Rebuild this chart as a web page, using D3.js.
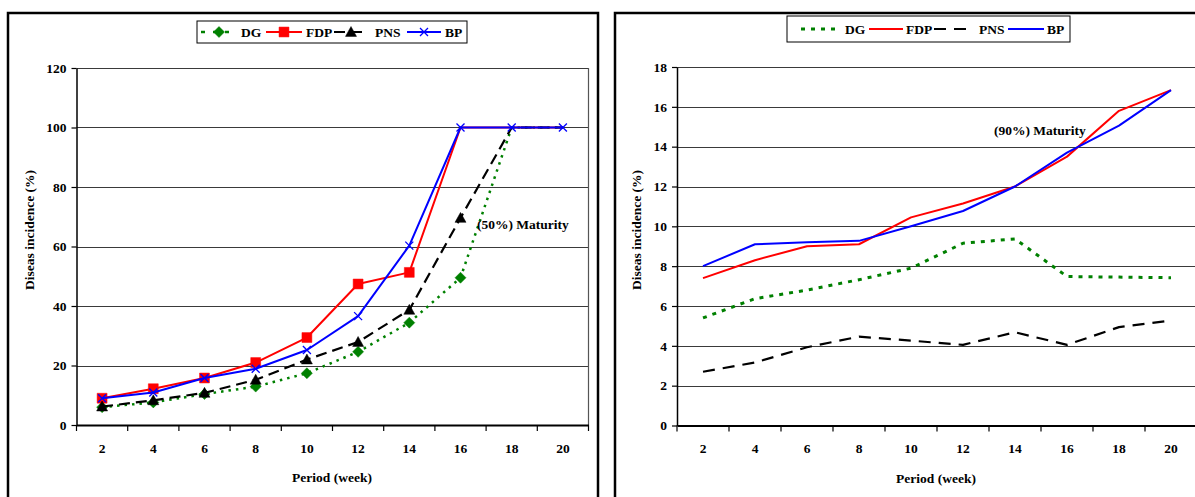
<!DOCTYPE html>
<html>
<head>
<meta charset="utf-8">
<script src="https://cdn.jsdelivr.net/npm/d3@7"></script>
<style>
  html, body { margin: 0; padding: 0; background: #fff; }
  svg { display: block; }
  text { font-family: "Liberation Serif", "Times New Roman", serif; font-weight: bold; fill: #000; }
</style>
</head>
<body>
<svg id="chart" width="1195" height="497"></svg>
<script>
// ---------- DATA ----------
const weeks = [2, 4, 6, 8, 10, 12, 14, 16, 18, 20];
const seriesNames = ["DG", "FDP", "PNS", "BP"];

// Left chart (50% maturity)
const leftDG  = [6.0, 7.6, 10.4, 12.9, 17.4, 24.6, 34.4, 49.5, 100, 100];
const leftFDP = [9.0, 12.2, 15.8, 21.0, 29.4, 47.4, 51.3, 100, 100, 100];
const leftPNS = [6.2, 8.3, 10.8, 15.2, 22.0, 27.9, 38.7, 69.6, 100, 100];
const leftBP  = [9.0, 10.9, 15.8, 18.9, 25.2, 36.6, 60.3, 100, 100, 100];
const leftYTicks = [0, 20, 40, 60, 80, 100, 120];

// Right chart (90% maturity)
const rightDG  = [5.4, 6.37, 6.8, 7.32, 7.9, 9.15, 9.37, 7.48, 7.45, 7.42];
const rightFDP = [7.4, 8.3, 9.0, 9.1, 10.45, 11.15, 12.0, 13.5, 15.8, 16.84];
const rightPNS = [2.7, 3.16, 3.93, 4.46, 4.26, 4.05, 4.68, 4.05, 4.94, 5.27];
const rightBP  = [8.0, 9.1, 9.2, 9.27, 10.0, 10.77, 12.0, 13.7, 15.06, 16.84];
const rightYTicks = [0, 2, 4, 6, 8, 10, 12, 14, 16, 18];

const xTitle = "Period (week)";
const yTitle = "Diseas incidence (%)";

// ---------- STYLES ----------
const colors = { DG: "#008000", FDP: "#ff0000", PNS: "#000000", BP: "#0000ff" };

const svg = d3.select("#chart");

function markerPath(type, size) {
  const s = size / 2;
  if (type === "DG") return `M0,${-s}L${s},0L0,${s}L${-s},0Z`;
  if (type === "FDP") return `M${-s*0.9},${-s*0.9}H${s*0.9}V${s*0.9}H${-s*0.9}Z`;
  if (type === "PNS") return `M0,${-s}L${s},${s*0.8}L${-s},${s*0.8}Z`;
  return `M${-s*0.8},${-s*0.8}L${s*0.8},${s*0.8}M${s*0.8},${-s*0.8}L${-s*0.8},${s*0.8}`;
}

function drawChart(cfg) {
  const g = svg.append("g");
  // frame
  g.append("rect").attr("x", cfg.frame[0]).attr("y", cfg.frame[1])
    .attr("width", cfg.frame[2]).attr("height", cfg.frame[3])
    .attr("fill", "none").attr("stroke", "#000").attr("stroke-width", 2.5);

  const x = d3.scaleBand().domain(weeks).range([cfg.x0, cfg.x1]);
  const y = d3.scaleLinear().domain(cfg.yDomain).range([cfg.y0, cfg.y1]);
  const cx = w => x(w) + x.bandwidth() / 2;

  // gridlines
  g.append("g").selectAll("line").data(cfg.yTicks.filter(t => t !== 0)).join("line")
    .attr("x1", cfg.x0).attr("x2", cfg.x1)
    .attr("y1", d => Math.round(y(d)) + 0.5).attr("y2", d => Math.round(y(d)) + 0.5)
    .attr("stroke", "#3a3a3a").attr("stroke-width", 1.2);

  // right border of plot
  if (cfg.rightBorder) {
    g.append("line").attr("x1", cfg.x1).attr("x2", cfg.x1).attr("y1", cfg.y1).attr("y2", cfg.y0)
      .attr("stroke", "#555").attr("stroke-width", 1.2);
  }

  // y axis
  const yAxis = g.append("g").attr("transform", `translate(${cfg.x0},0)`)
    .call(d3.axisLeft(y).tickValues(cfg.yTicks).tickSize(5).tickPadding(5).tickSizeOuter(0));
  yAxis.select(".domain").attr("stroke", "#000").attr("stroke-width", 1.5);
  yAxis.selectAll(".tick line").attr("stroke", "#000").attr("stroke-width", 1.2);
  yAxis.selectAll(".tick text").style("font-size", "13.5px")
    .style("font-family", "'Liberation Serif', serif").style("font-weight", "bold");

  // x axis
  const xAxis = g.append("g").attr("transform", `translate(0,${cfg.y0})`)
    .call(d3.axisBottom(x).tickSize(0).tickPadding(18).tickSizeOuter(0));
  xAxis.select(".domain").attr("stroke", "#000").attr("stroke-width", 2);
  xAxis.selectAll(".tick text").style("font-size", "13.5px")
    .style("font-family", "'Liberation Serif', serif").style("font-weight", "bold");
  // boundary tick marks
  const bounds = weeks.map(w => x(w)).concat([cfg.x1]);
  g.append("g").selectAll("line").data(bounds).join("line")
    .attr("x1", d => d).attr("x2", d => d).attr("y1", cfg.y0).attr("y2", cfg.y0 + 6)
    .attr("stroke", "#000").attr("stroke-width", 1.2);

  // axis titles
  g.append("text").attr("x", (cfg.titleX)).attr("y", cfg.y0 + 57)
    .attr("text-anchor", "middle").style("font-size", "13.5px").text(xTitle);
  g.append("text").attr("transform", `translate(${cfg.yTitleX},${cfg.yTitleY}) rotate(-90)`)
    .attr("text-anchor", "middle").style("font-size", "13.5px").text(yTitle);

  // lines
  const line = d3.line().x(d => cx(d.w)).y(d => y(d.v));
  cfg.series.forEach(s => {
    const pts = weeks.map((w, i) => ({ w, v: s.values[i] }));
    g.append("path").datum(pts).attr("d", line)
      .attr("fill", "none").attr("stroke", colors[s.name])
      .attr("stroke-width", s.width).attr("stroke-dasharray", s.dash || null)
      .attr("stroke-linejoin", "round");
    if (cfg.markers) {
      const mp = pts.filter(p => s.name === "BP" || p.v < cfg.yDomain[1] * 0.83);
      g.append("g").selectAll("path").data(mp).join("path")
        .attr("transform", d => `translate(${cx(d.w)},${y(d.v)})`)
        .attr("d", markerPath(s.name, s.name === "BP" ? 10 : 11))
        .attr("fill", s.name === "BP" ? "none" : colors[s.name])
        .attr("stroke", colors[s.name]).attr("stroke-width", s.name === "BP" ? 1.3 : 0.5);
    }
  });

  // annotation
  g.append("text").attr("x", cfg.note[0]).attr("y", cfg.note[1])
    .style("font-size", "13.5px").text(cfg.note[2]);

  // legend
  const L = cfg.legend;
  g.append("rect").attr("x", L.box[0]).attr("y", L.box[1]).attr("width", L.box[2]).attr("height", L.box[3])
    .attr("fill", "#fff").attr("stroke", "#000").attr("stroke-width", 1);
  const ly = L.box[1] + L.box[3] / 2;
  cfg.series.forEach((s, i) => {
    const it = L.items[i];
    g.append("line").attr("x1", it[0]).attr("x2", it[1]).attr("y1", ly).attr("y2", ly)
      .attr("stroke", colors[s.name]).attr("stroke-width", s.legendWidth || s.width)
      .attr("stroke-dasharray", s.legendDash || s.dash || null);
    if (cfg.markers) {
      g.append("path").attr("transform", `translate(${(it[0] + it[1]) / 2},${ly})`)
        .attr("d", markerPath(s.name, s.name === "BP" ? 10 : 11))
        .attr("fill", s.name === "BP" ? "none" : colors[s.name])
        .attr("stroke", colors[s.name]).attr("stroke-width", s.name === "BP" ? 1.3 : 0.5);
    }
    g.append("text").attr("x", it[2]).attr("y", ly + 5).style("font-size", "13.5px").text(s.name);
  });
}

drawChart({
  frame: [8, 13, 590, 500],
  x0: 76.5, x1: 588.5, y0: 425, y1: 68, yDomain: [0, 120], yTicks: leftYTicks,
  rightBorder: true, markers: true,
  titleX: 332, yTitleX: 34, yTitleY: 230,
  note: [477, 229, "(50%) Maturity"],
  series: [
    { name: "DG", values: leftDG, width: 2.5, dash: "2.5,5", legendDash: "4,8" },
    { name: "FDP", values: leftFDP, width: 2 },
    { name: "PNS", values: leftPNS, width: 2.2, dash: "11,6" },
    { name: "BP", values: leftBP, width: 2 }
  ],
  legend: { box: [197, 21, 270, 22], items: [[201, 237, 241], [266, 302, 306], [334, 368, 375], [407, 441, 445]] }
});

drawChart({
  frame: [615, 13, 600, 500],
  x0: 677, x1: 1197, y0: 425.5, y1: 67, yDomain: [0, 18], yTicks: rightYTicks,
  rightBorder: false, markers: false,
  titleX: 936, yTitleX: 641, yTitleY: 230,
  note: [994, 135, "(90%) Maturity"],
  series: [
    { name: "DG", values: rightDG, width: 3, dash: "4,6" },
    { name: "FDP", values: rightFDP, width: 2 },
    { name: "PNS", values: rightPNS, width: 2.2, dash: "12,8" },
    { name: "BP", values: rightBP, width: 2 }
  ],
  legend: { box: [787, 16, 283, 26], items: [[801, 841, 845], [869, 903, 906], [934, 971, 979], [1008, 1044, 1047]] }
});
</script>
</body>
</html>
